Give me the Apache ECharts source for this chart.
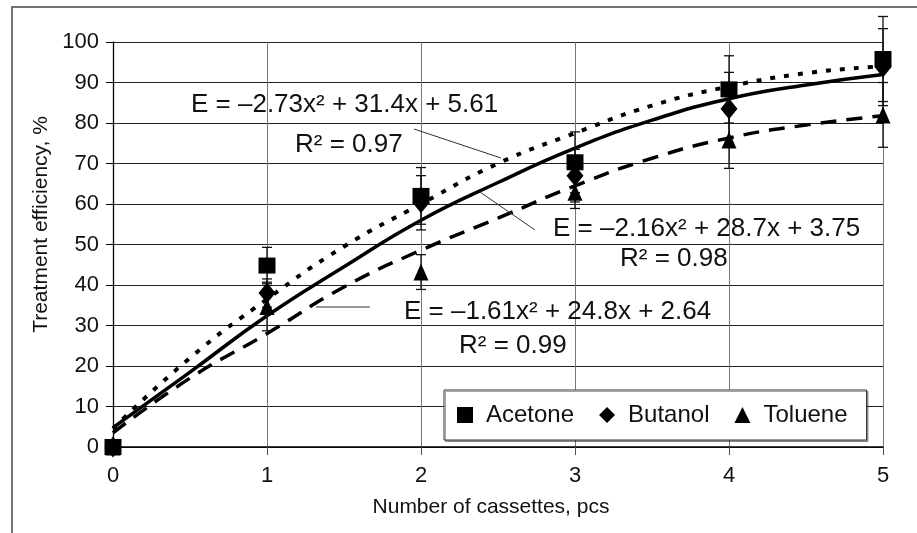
<!DOCTYPE html>
<html>
<head>
<meta charset="utf-8">
<script src="https://cdn.jsdelivr.net/npm/echarts@6/dist/echarts.min.js"></script>
<style>
html,body{margin:0;padding:0;background:#fff;}
#chart{width:917px;height:533px;}
</style>
</head>
<body>
<div id="chart"></div>
<script>
// ---- data ----
const cassettes = [0, 1, 2, 3, 4, 5];
const acetone = [0, 44.8, 62, 70.3, 88.3, 95.8];
const butanol = [0, 38, 60.3, 67, 83.5, 93.8];
const toluene = [0, 34.7, 43.2, 62.9, 75.8, 82];
const acetoneErr = [0, 4.5, 7, 7.5, 8.3, 10.5];
const butanolErr = [0, 3.5, 6.7, 6.5, 9, 9.5];
const tolueneErr = [0, 6, 4.3, 4, 7, 8];
// trend curves
const trendX = [0, 0.5, 1, 1.5, 2, 2.5, 3, 3.5, 4, 4.5, 5];
const acetoneTrend = [4.5, 22, 36.5, 49.5, 60, 70, 77.5, 84.3, 89, 92.3, 94];
const butanolTrend = [4.8, 18.5, 32.4, 44.5, 56, 65.3, 73.8, 80.7, 86, 89.4, 92];
const tolueneTrend = [3.5, 17, 28, 39.5, 48.6, 56.5, 64.5, 71.3, 76.3, 79.5, 81.8];
const seriesNames = ['Acetone', 'Butanol', 'Toluene'];
const equations = [
  'E = –2.73x² + 31.4x + 5.61', 'R² = 0.97',
  'E = –2.16x² + 28.7x + 3.75', 'R² = 0.98',
  'E = –1.61x² + 24.8x + 2.64', 'R² = 0.99'
];

const FONT = '"Liberation Sans", Arial, sans-serif';
const chart = echarts.init(document.getElementById('chart'), null, {renderer: 'canvas'});

function pts(xs, ys) { return xs.map((x, i) => [x, ys[i]]); }
function errData(ys, es) { return cassettes.map((x, i) => [x, ys[i], es[i]]); }

function errSeries(name, ys, es) {
  return {
    name: name + ' error',
    type: 'custom',
    clip: false,
    z: 3,
    data: errData(ys, es),
    renderItem: function (params, api) {
      const x = api.value(0), y = api.value(1), e = api.value(2);
      if (!e) return null;
      const t = api.coord([x, y + e]);
      const b = api.coord([x, y - e]);
      const hw = 5;
      const st = {stroke: '#111', lineWidth: 1.3};
      return {
        type: 'group',
        children: [
          {type: 'line', shape: {x1: t[0], y1: t[1], x2: b[0], y2: b[1]}, style: st},
          {type: 'line', shape: {x1: t[0] - hw, y1: t[1], x2: t[0] + hw, y2: t[1]}, style: st},
          {type: 'line', shape: {x1: b[0] - hw, y1: b[1], x2: b[0] + hw, y2: b[1]}, style: st}
        ]
      };
    }
  };
}

function trendSeries(name, ys, lineType, width) {
  return {
    name: name + ' trend',
    type: 'line',
    smooth: true,
    showSymbol: false,
    silent: true,
    z: 2,
    data: pts(trendX, ys),
    lineStyle: {color: '#000', width: width, type: lineType, cap: 'butt'}
  };
}

function scatterSeries(name, ys, symbol, size) {
  return {
    name: name,
    type: 'scatter',
    symbol: symbol,
    symbolSize: size,
    z: 5,
    itemStyle: {color: '#000', opacity: 1},
    data: pts(cassettes, ys)
  };
}

const txt = (text, x, y) => ({
  type: 'text', x: x, y: y, z: 20,
  style: {text: text, fill: '#111', fontSize: 26, fontFamily: FONT, verticalAlign: 'middle', align: 'left'}
});
const ln = (x1, y1, x2, y2) => ({
  type: 'line', z: 20, shape: {x1, y1, x2, y2}, style: {stroke: '#333', lineWidth: 1}
});

const option = {
  backgroundColor: '#fff',
  animation: false,
  textStyle: {fontFamily: FONT},
  grid: {left: 113, right: 34, top: 42, bottom: 86, containLabel: false},
  legend: {
    data: seriesNames,
    orient: 'horizontal',
    left: 444, top: 390,
    padding: [13, 19, 13, 13],
    itemWidth: 16, itemHeight: 16, itemGap: 25,
    backgroundColor: '#fff',
    borderColor: '#333', borderWidth: 1,
    shadowColor: 'rgba(0,0,0,0.35)', shadowOffsetX: 1.5, shadowOffsetY: 1.5, shadowBlur: 0,
    textStyle: {fontSize: 24, color: '#111', fontFamily: FONT, padding: [0, 0, 0, 8]}
  },
  xAxis: {
    type: 'value', min: 0, max: 5, interval: 1,
    name: 'Number of cassettes, pcs', nameLocation: 'middle', nameGap: 50,
    nameTextStyle: {fontSize: 21, color: '#111', fontFamily: FONT, padding: [0, 14, 0, 0]},
    axisLine: {show: true, lineStyle: {color: '#000', width: 1.5}},
    axisTick: {show: true, length: 8, lineStyle: {color: '#555', width: 1}},
    axisLabel: {fontSize: 22, color: '#111', margin: 18, fontFamily: FONT},
    splitLine: {show: true, lineStyle: {color: '#777', width: 1}}
  },
  yAxis: {
    type: 'value', min: 0, max: 100, interval: 10,
    name: 'Treatment efficiency, %', nameLocation: 'middle', nameGap: 46,
    nameTextStyle: {fontSize: 21, color: '#111', fontFamily: FONT, padding: [0, 0, 0, 40]},
    axisLine: {show: true, lineStyle: {color: '#000', width: 1.3}},
    axisTick: {show: true, length: 7, lineStyle: {color: '#000', width: 1}},
    axisLabel: {fontSize: 22, color: '#111', margin: 14, fontFamily: FONT},
    splitLine: {show: true, lineStyle: {color: '#222', width: 1}}
  },
  series: [
    trendSeries('Acetone', acetoneTrend, [5, 9], 4),
    trendSeries('Butanol', butanolTrend, 'solid', 3.5),
    trendSeries('Toluene', tolueneTrend, [16, 10], 3.5),
    errSeries('Acetone', acetone, acetoneErr),
    errSeries('Butanol', butanol, butanolErr),
    errSeries('Toluene', toluene, tolueneErr),
    scatterSeries('Acetone', acetone, 'rect', [17, 16]),
    scatterSeries('Butanol', butanol, 'diamond', [17, 21]),
    scatterSeries('Toluene', toluene, 'triangle', [15, 17])
  ],
  graphic: [
    {type: 'rect', z: -1, shape: {x: 12, y: 7, width: 960, height: 600},
     style: {fill: 'none', stroke: '#444', lineWidth: 1.5}},
    txt(equations[0], 191, 105),
    txt(equations[1], 295, 145),
    txt(equations[2], 553, 229),
    txt(equations[3], 620, 259),
    txt(equations[4], 404, 312),
    txt(equations[5], 459, 346),
    ln(414, 129, 501, 158),
    ln(480, 192, 535, 230),
    ln(316, 307, 370, 307)
  ]
};
chart.setOption(option);
</script>
</body>
</html>
